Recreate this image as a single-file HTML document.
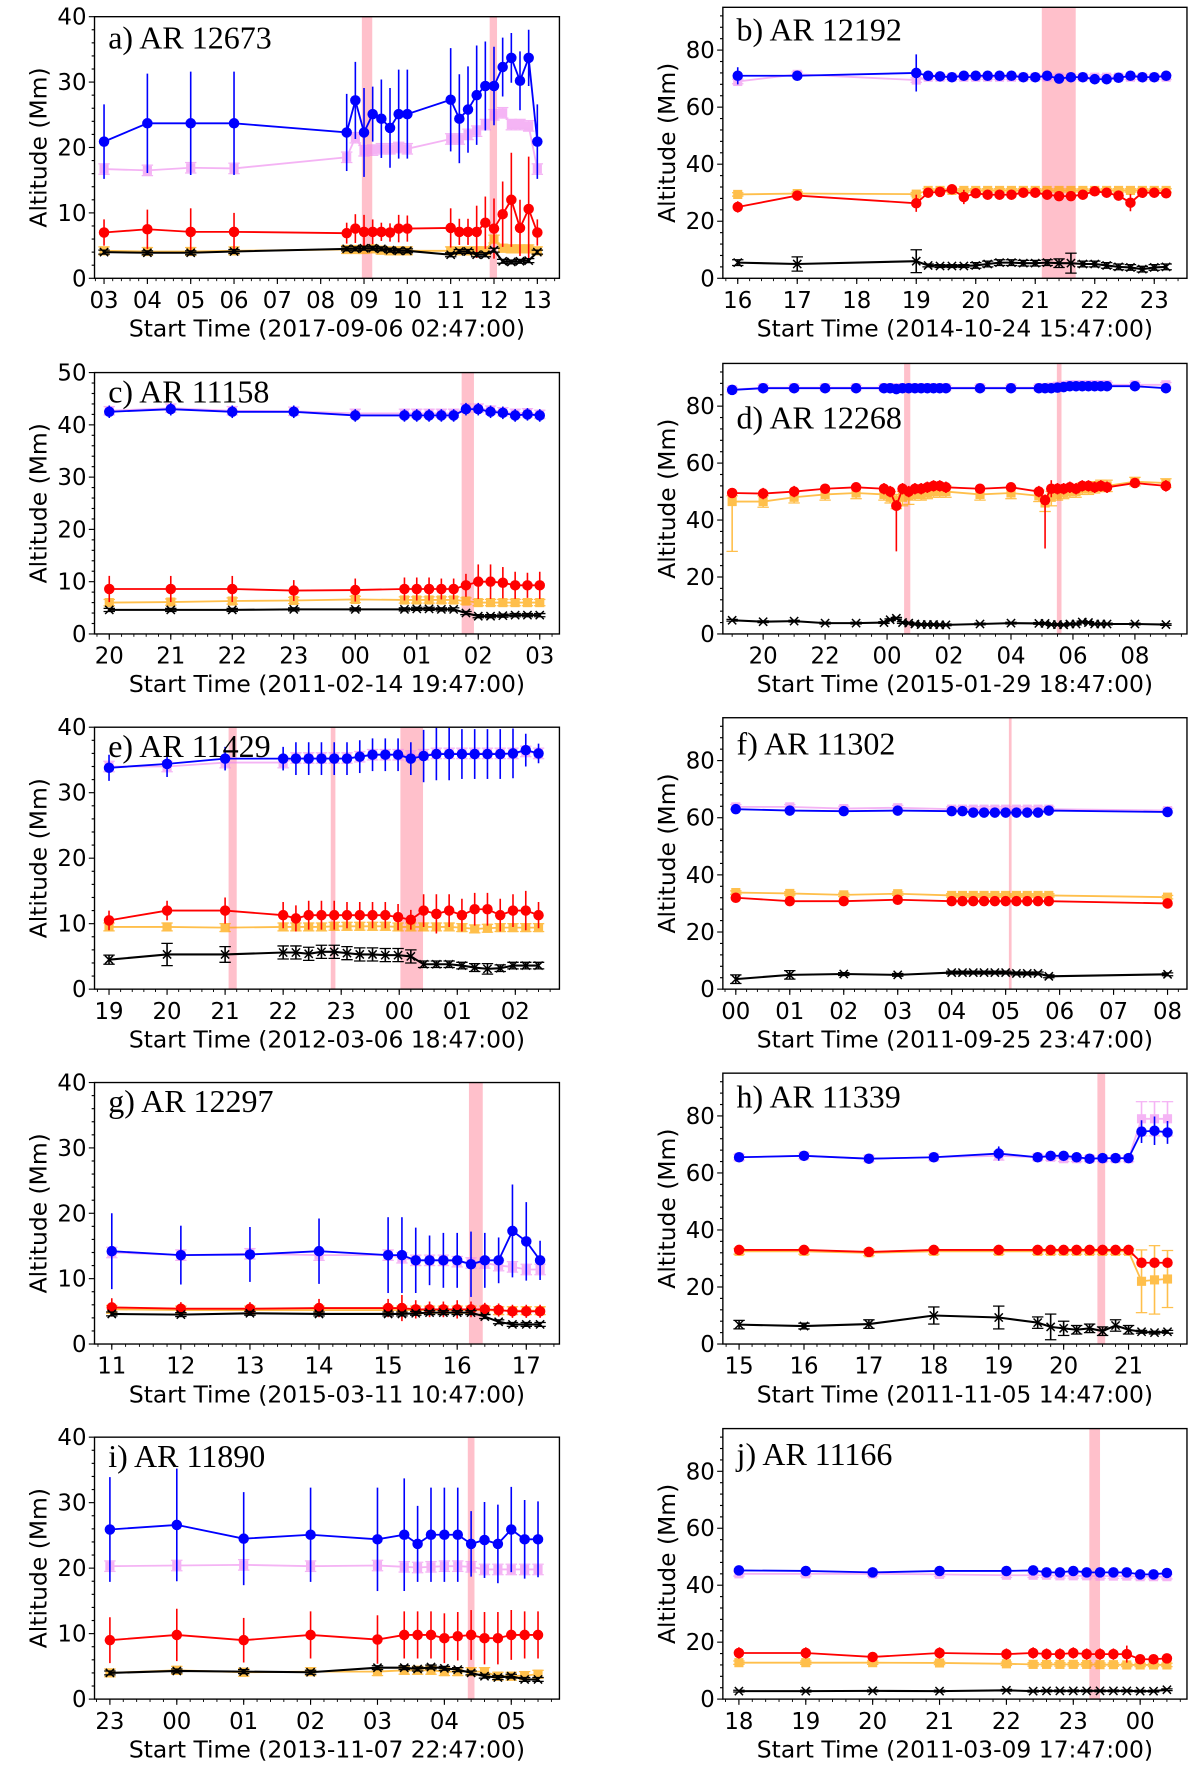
<!DOCTYPE html>
<html><head><meta charset="utf-8"><style>
html,body{margin:0;padding:0;background:#fff;}
svg{display:block;}
</style></head>
<body>
<svg id="fig" xmlns="http://www.w3.org/2000/svg" width="1200" height="1779" viewBox="0 0 1050 1556.6" preserveAspectRatio="none"></svg>
<script>
// ---------- Panel a ----------
const aTimes=[3,4,5,6,8.6,8.8,9.0,9.2,9.4,9.6,9.8,10.0,11.0,11.2,11.4,11.6,11.8,12.0,12.2,12.4,12.6,12.8,13.0];
const aBlue=[20.9,23.7,23.7,23.7,22.3,27.2,22.3,25.1,24.4,23.0,25.1,25.1,27.3,24.4,25.8,28.0,29.4,29.4,32.3,33.7,30.2,33.7,20.9];
const aBlueErr=[5.7,7.6,7.9,7.9,5.9,5.9,6.8,4.2,6,6.1,6.8,6.8,7.9,6.8,6.6,7.6,6.8,6,4.5,3.8,4.5,4.3,5.7];
const aViolet=[16.7,16.5,16.9,16.8,18.5,21.5,19.5,19.6,19.8,19.8,20.0,19.8,21.3,21.3,22.0,22.5,23.5,25.0,25.3,23.5,23.5,23.3,16.7];
const aRed=[7.0,7.5,7.1,7.1,6.9,7.6,7.1,7.1,7.1,7.0,7.6,7.6,7.7,7.1,7.1,7.1,8.5,7.6,9.8,12.0,7.7,10.6,7.0];
const aRedErr=[2,3,3.6,2.9,1.6,2.2,2.6,1.9,1.4,1.4,2.1,2.0,3.0,2.0,2.0,4,4,4.6,5,7.2,4.3,8,2];
const aOrange=[4.2,4.1,4.1,4.2,4.4,4.4,4.4,4.5,4.3,4.2,4.2,4.2,4.2,4.2,4.2,4.2,4.2,6.0,4.6,4.5,4.5,4.5,4.2];
const aBlack=[4.0,3.9,3.9,4.1,4.5,4.5,4.6,4.6,4.5,4.3,4.2,4.2,3.6,4.1,4.1,3.6,3.6,4.3,2.6,2.5,2.6,2.7,4.0];
const aBands=[[8.95,9.19],[11.9,12.07]];
const aTicks=[3,4,5,6,7,8,9,10,11,12,13];
const aTickLabels=["03","04","05","06","07","08","09","10","11","12","13"];
// ---------- Panel b ----------
const bTimes=[16,17,19,19.2,19.4,19.6,19.8,20.0,20.2,20.4,20.6,20.8,21.0,21.2,21.4,21.6,21.8,22.0,22.2,22.4,22.6,22.8,23.0,23.2];
const bBlue=[71,71,72,71,70.8,70.5,71,71,71,71,71,70.5,70.5,71,70,70.5,70.5,69.8,69.8,70.3,71,70.5,70.5,71];
const bBlueErr=[3,1.5,6.5,1.5,1,1,1.5,1,1,1,1,1,1,1,1,1,1,1,1,1,1.5,1,1,1];
const bViolet=[69,71.5,69.5,70.5,70.5,70.5,70.5,70.5,70.5,70.5,70.5,70.5,70.5,70.5,70.5,70.5,70.5,70.5,70.5,70.5,70.5,70.5,70.5,70.5];
const bRed=[25,29,26.3,30,30.3,31.2,28.5,29.8,29.3,29.3,29.3,30,30,29.3,28.8,28.8,29.3,30.5,30,29,26.5,30,30,29.8];
const bRedErr=[2,1.5,3,1.5,1.5,1,2.5,1.5,1.5,1.5,1.5,1,1,1.5,1.5,1,1.5,1,1,1.5,3,1,1,1.5];
const bOrange=[29.4,29.7,29.5,30.8,30.8,30.8,30.8,30.8,30.8,30.8,30.8,30.8,30.8,30.8,30.8,30.8,30.8,30.8,30.8,30.8,30.8,30.8,30.8,30.8];
const bBlack=[5.5,5,6,4.5,4.3,4.3,4.3,4.5,5,5.5,5.5,5.3,5.3,5.5,5.3,5.3,5,5,4.5,4,3.8,3.2,3.8,4];
const bBlackErr=[1,2.5,4,0.5,0.5,0.5,0.5,1,1,1,1,1,1,1,1.5,3.5,1,1,1,1,1,1,1,1];
const bBands=[[21.11,21.68]];
const bTicks=[16,17,18,19,20,21,22,23];
const bTickLabels=["16","17","18","19","20","21","22","23"];
// ---------- Panel c ----------
const cTimes=[20,21,22,23,24,24.8,25,25.2,25.4,25.6,25.8,26,26.2,26.4,26.6,26.8,27];
const cBlue=[42.5,43,42.5,42.5,41.8,41.8,41.8,41.8,41.8,41.8,43,43,42.5,42.3,41.8,42,41.8];
const cBlueErr=[1.2,1.2,1.2,1.2,1.2,1.2,1.2,1.2,1.2,1.2,1.2,1.2,1.2,1.2,1.2,1.2,1.2];
const cViolet=[42.7,43.2,42.7,42.6,42.2,42.2,42.2,42.2,42.2,42.2,43.2,43.2,42.8,42.5,42.2,42.3,42];
const cRed=[8.6,8.6,8.6,8.3,8.4,8.6,8.6,8.6,8.6,8.6,9.3,10,10,9.8,9.3,9.3,9.3];
const cRedErr=[2.5,2.5,2.5,2,2.2,2.2,2.2,2.2,2,2,2.2,3.3,3.3,3,2.6,2.4,2.6];
const cOrange=[6,6.1,6.3,6.4,6.6,6.5,6.5,6.5,6.5,6.5,6.3,6,6,6,6,6,6];
const cBlack=[4.6,4.6,4.6,4.7,4.7,4.7,4.8,4.8,4.7,4.7,4,3.4,3.4,3.5,3.6,3.6,3.6];
const cBands=[[25.73,25.93]];
const cTicks=[20,21,22,23,24,25,26,27];
const cTickLabels=["20","21","22","23","00","01","02","03"];
// ---------- Panel d ----------
const dTimes=[19,20,21,22,23,23.9,24.1,24.3,24.5,24.7,24.9,25.1,25.3,25.5,25.7,25.9,27,28,28.9,29.1,29.3,29.5,29.7,29.9,30.1,30.3,30.5,30.7,30.9,31.1,32,33];
const dBlue=[85.7,86.3,86.3,86.3,86.3,86.3,86.3,86,86.3,86.3,86.3,86.3,86.3,86.3,86.3,86.3,86.3,86.3,86.3,86.3,86.3,86.5,86.7,87,87,87,87,87,87,87,87,86.3];
const dViolet=[85.8,86.5,86.5,86.5,86.5,86.5,86.5,86.5,86.5,86.5,86.5,86.5,86.5,86.5,86.5,86.5,86.5,86.5,86.5,86.5,86.7,87,87.3,87.5,87.5,87.5,87.5,87.5,87.5,87.5,87.5,87.5];
const dRed=[49.5,49.3,50,51,51.5,51,50,45,51,50,51,51,51.5,52,52,51.5,51,51.5,50,47,51,51,51,51.5,51,52,52,51.5,52,51.5,53,52];
const dRedErr=[1.5,2,2,1.5,1.5,2,2,16,2,2,2,2,2,2,2,2,1.5,1.5,2,17,3,2,2,2,2,2,2,2,2,2,1.5,2];
const dRedErrHi=[1.5,2,2,1.5,1.5,2,2,2,2,2,2,2,2,2,2,2,1.5,1.5,2,2,3,2,2,2,2,2,2,2,2,2,1.5,2];
const dOrange=[46.5,46.5,48,49,49.5,49,48,47,48,48.5,49,49,49.5,50,50,50,49,49.5,48.5,46,48,49,49.5,50,50,51,51,51.5,52,52,53.5,53];
const dOrangeErr=[17.5,2,2,2,2,2,2,3,3,3,2,2,2,2,2,2,2,2,2,3,3,2,2,2,2,2,2,2,2,2,1.5,1.5];
const dOrangeErrHi=[2,2,2,2,2,2,2,2,2,2,2,2,2,2,2,2,2,2,2,2,2,2,2,2,2,2,2,2,2,2,1.5,1.5];
const dBlack=[4.8,4.3,4.5,3.8,3.8,4,5,5.5,4,3.8,3.5,3.3,3.3,3.3,3.2,3.2,3.5,3.8,3.7,3.7,3.3,3.3,3.2,3.5,3.5,4.2,4,3.5,3.5,3.5,3.5,3.3];
const dBands=[[24.55,24.75],[29.48,29.63]];
const dTicks=[20,22,24,26,28,30,32];
const dTickLabels=["20","22","00","02","04","06","08"];
// ---------- Panel e ----------
const eTimes=[19,20,21,22,22.22,22.44,22.66,22.88,23.1,23.32,23.54,23.76,23.98,24.2,24.42,24.64,24.86,25.08,25.3,25.52,25.74,25.96,26.18,26.4];
const eBlue=[33.8,34.4,35.2,35.2,35.2,35.2,35.2,35.2,35.2,35.5,35.8,35.8,35.8,35.2,35.6,35.9,35.9,35.9,35.9,35.9,35.9,36,36.5,36];
const eBlueErr=[2,2,1.8,1.8,2.5,2.5,2.5,2.5,2.5,2.5,2.5,2.5,2.5,2.5,4,4,4,3.8,3.8,3.8,3.8,3.8,2.5,1.5];
const eViolet=[34,34,34.6,34.6,35.3,35.3,35.3,35.3,35.3,35.5,35.8,35.8,35.8,35.6,35.8,36,36,36,36,36,36,36,36.3,36];
const eRed=[10.5,12,12,11.3,10.8,11.3,11.3,11.3,11.3,11.3,11.3,11.3,11,10.6,12,11.5,12,11.3,12.2,12.2,11.3,12,12,11.3];
const eRedErr=[1.5,1.5,2,2,2,2.2,2.2,2.2,2,2,2,2,2,1.5,2.5,3,2.5,2.5,2.5,2.5,2.5,2.5,3,2];
const eOrange=[9.5,9.5,9.4,9.5,9.5,9.5,9.5,9.6,9.6,9.6,9.6,9.6,9.5,9.5,9.5,9.5,9.5,9.4,9.2,9.3,9.4,9.4,9.4,9.4];
const eBlack=[4.5,5.3,5.3,5.6,5.6,5.4,5.7,5.7,5.5,5.3,5.3,5.2,5.2,5.0,3.8,3.8,3.8,3.6,3.3,3.1,3.2,3.6,3.6,3.6];
const eBlackErr=[0.7,1.7,1.2,1,1,1,1,1,1,1,1,1,1,1,0.5,0.5,0.5,0.5,0.6,0.8,0.5,0.5,0.5,0.5];
const eBands=[[21.06,21.2],[22.82,22.9],[24.02,24.41]];
const eTicks=[19,20,21,22,23,24,25,26];
const eTickLabels=["19","20","21","22","23","00","01","02"];
// ---------- Panel f ----------
const fTimes=[0,1,2,3,4,4.2,4.4,4.6,4.8,5.0,5.2,5.4,5.6,5.8,8];
const fBlue=[63,62.5,62.3,62.5,62.3,62.3,61.8,61.8,61.8,61.8,61.8,61.8,61.8,62.5,62];
const fViolet=[63.8,63.8,63.2,63.5,63,63,63,63,63,63,63,63,63,63,62.5];
const fRed=[32,30.8,30.8,31.3,30.8,30.8,30.8,30.8,30.8,30.8,30.8,30.8,30.8,30.8,30];
const fOrange=[33.8,33.5,33,33.4,32.8,32.8,32.8,32.8,32.8,32.8,32.8,32.8,32.8,32.8,32.2];
const fBlack=[3.5,5,5.3,5,5.8,5.8,5.8,5.8,5.8,5.8,5.5,5.5,5.5,4.5,5.2];
const fBlackErr=[1.5,1.5,0.5,0.5,0.5,0.5,0.5,0.5,0.5,0.5,0.5,0.5,0.5,0.5,0.5];
const fBands=[[5.06,5.11]];
const fTicks=[0,1,2,3,4,5,6,7,8];
const fTickLabels=["00","01","02","03","04","05","06","07","08"];
// ---------- Panel g ----------
const gTimes=[11,12,13,14,15,15.2,15.4,15.6,15.8,16,16.2,16.4,16.6,16.8,17,17.2];
const gBlue=[14.2,13.6,13.7,14.2,13.6,13.6,12.8,12.8,12.8,12.8,12.2,12.8,12.8,17.3,15.7,12.8];
const gBlueErr=[5.8,4.5,4.2,5,5.8,5.8,5,3.8,4.2,4.2,5,4.2,3.5,7.1,6,3];
const gViolet=[14,13.6,13.8,13.6,13.6,13.2,12.8,12.8,12.8,12.6,12.4,12.4,12,11.8,11.4,11.4];
const gRed=[5.6,5.4,5.4,5.5,5.5,5.5,5.3,5.3,5.3,5.3,5.3,5.3,5.2,5,5,5];
const gRedErr=[1.4,1,1,1.4,1.4,2,1.4,1.2,1.2,1.4,1.2,1,1,1,1,1];
const gOrange=[5.3,5.2,5.2,5.2,5.2,5.2,5.2,5.2,5.2,5.2,5.2,5.2,5.1,5.1,5.1,5.1];
const gBlack=[4.6,4.5,4.7,4.6,4.6,4.6,4.7,4.8,4.8,4.8,4.8,4.2,3.4,3.0,3.0,3.0];
const gBands=[[16.17,16.37]];
const gTicks=[11,12,13,14,15,16,17];
const gTickLabels=["11","12","13","14","15","16","17"];
// ---------- Panel h ----------
const hTimes=[15,16,17,18,19,19.6,19.8,20,20.2,20.4,20.6,20.8,21,21.2,21.4,21.6];
const hBlue=[65.5,66,65,65.5,66.8,65.5,66,66,65.5,65,65.2,65.2,65.2,74.5,74.8,74.2];
const hBlueErr=[1,1,1.5,1,2.5,1,1.5,1.5,1.5,1.5,1,1,1,4,5,4];
const hViolet=[65.5,66,65,65.5,66,65.5,65.5,65,65,65,65,65,65,79,79,79];
const hVioletErr=[1,1,1,1,1.5,1,1,1,1,1,1,1,1,6,6,6];
const hRed=[33,33,32.3,33,33,33,33,33,33,33,33,33,33,28.5,28.5,28.5];
const hOrange=[32.5,32.5,32,32.5,32.5,32.5,32.5,32.5,32.5,32.5,32.5,32.5,32.5,22,22.5,22.8];
const hOrangeErr=[1,1,1,1,1,1,1,1,1,1,1,1,1,11,12,10];
const hBlack=[6.8,6.3,7,10,9.3,7.5,6,5.5,5,5.5,4.5,6.5,5,4.3,4,4.3];
const hBlackErr=[1.5,1,1.5,3,4,2,4.5,2.5,1.5,1.5,1.5,2,1.5,0.5,0.5,0.5];
const hBands=[[20.52,20.64]];
const hTicks=[15,16,17,18,19,20,21];
const hTickLabels=["15","16","17","18","19","20","21"];
// ---------- Panel i ----------
const iTimes=[23,24,25,26,27,27.4,27.6,27.8,28.0,28.2,28.4,28.6,28.8,29.0,29.2,29.4];
const iBlue=[25.9,26.6,24.5,25.1,24.4,25.1,23.7,25.1,25.1,25.1,23.7,24.3,23.7,25.9,24.4,24.4];
const iBlueErr=[8,8.6,7.1,7.2,7.9,8.6,5.8,7.2,7.2,7.2,5,5.8,6,6.5,6,5.8];
const iViolet=[20.3,20.4,20.5,20.3,20.4,20.2,20.1,20.2,20.3,20.3,20.2,19.8,19.8,19.8,19.8,19.8];
const iRed=[9,9.8,9,9.8,9.1,9.8,9.8,9.8,9.3,9.6,9.8,9.3,9.3,9.8,9.8,9.8];
const iRedErr=[3.5,4,3.4,3.6,3.7,3.6,3.6,3.6,3.8,3.7,3.8,4,4,3.8,3.6,3.6];
const iOrange=[4,4.4,4.1,4.2,4.2,4.4,4.4,4.4,4.2,4.2,4.2,4.2,3.5,3.5,3.6,3.8];
const iBlack=[4,4.3,4.2,4.1,4.8,4.8,4.6,4.9,4.7,4.5,4,3.5,3.3,3.5,3,3];
const iBands=[[28.35,28.45]];
const iTicks=[23,24,25,26,27,28,29];
const iTickLabels=["23","00","01","02","03","04","05"];
// ---------- Panel j ----------
const jTimes=[18,19,20,21,22,22.4,22.6,22.8,23.0,23.2,23.4,23.6,23.8,24.0,24.2,24.4];
const jBlue=[45.2,45,44.5,45,45,45.2,44.5,44.5,45,44.5,44.5,44.5,44.5,43.8,43.8,44.3];
const jViolet=[44,44,44,43.8,43.5,43.5,43.5,43.3,43.3,43.3,43.2,43.2,43.2,43,43,43];
const jRed=[16.2,16.2,14.8,16.2,15.8,16.2,15.8,15.8,16.2,15.8,15.8,15.8,15.8,14,14,14.3];
const jRedErr=[2,2,1.5,2,2,2,2,2,2,2,2,2,3,1.5,1.5,1.5];
const jOrange=[12.8,12.8,12.8,12.7,12.4,12.2,12.2,12.2,12.2,12.2,12.1,12.1,12,12,12,12];
const jBlack=[2.8,2.8,2.9,2.8,3.1,2.8,2.9,2.9,2.9,2.9,2.9,2.9,2.9,2.8,2.8,3.3];
const jBands=[[23.24,23.4]];
const jTicks=[18,19,20,21,22,23,24];
const jTickLabels=["18","19","20","21","22","23","00"];

const NS='http://www.w3.org/2000/svg';
const svg=document.getElementById('fig');
function mk(tag,attrs,parent){const el=document.createElementNS(NS,tag);for(const k in attrs)el.setAttribute(k,attrs[k]);parent.appendChild(el);return el;}
const defs=mk('defs',{},svg);

const LEFT=[82.7,489.5], RIGHT=[632.5,1038.6];
const rows=[{tl:14.6,tr:6.4,b:243.5},{tl:326,tr:318,b:554.7},{tl:636.3,tr:628,b:865.5},{tl:947.2,tr:939,b:1176},{tl:1257.5,tr:1250,b:1486.7}];

const panels=[
 {id:'a',col:0,row:0,title:'a) AR 12673',tdy:28,xlim:[2.78,13.51],ylim:[0,40],ymaj:10,ymin:2,xmin:5,xlabel:'Start Time (2017-09-06 02:47:00)',t:aTimes,ticks:aTicks,tl:aTickLabels,bands:aBands,
  s:{violet:[aViolet],blue:[aBlue,aBlueErr],orange:[aOrange],red:[aRed,aRedErr],black:[aBlack]}},
 {id:'b',col:1,row:0,title:'b) AR 12192',tdy:29,xlim:[15.75,23.55],ylim:[0,95],ymaj:20,ymin:4,xmin:5,xlabel:'Start Time (2014-10-24 15:47:00)',t:bTimes,ticks:bTicks,tl:bTickLabels,bands:bBands,
  s:{violet:[bViolet],blue:[bBlue,bBlueErr],orange:[bOrange],red:[bRed,bRedErr],black:[bBlack,bBlackErr]}},
 {id:'c',col:0,row:1,title:'c) AR 11158',tdy:26,xlim:[19.76,27.32],ylim:[0,50],ymaj:10,ymin:2,xmin:5,xlabel:'Start Time (2011-02-14 19:47:00)',t:cTimes,ticks:cTicks,tl:cTickLabels,bands:cBands,
  s:{violet:[cViolet],blue:[cBlue,cBlueErr],orange:[cOrange],red:[cRed,cRedErr],black:[cBlack]}},
 {id:'d',col:1,row:1,title:'d) AR 12268',tdy:57,xlim:[18.7,33.68],ylim:[0,95],ymaj:20,ymin:4,xmin:4,xlabel:'Start Time (2015-01-29 18:47:00)',t:dTimes,ticks:dTicks,tl:dTickLabels,bands:dBands,
  s:{violet:[dViolet],blue:[dBlue],orange:[dOrange,dOrangeErr,dOrangeErrHi],red:[dRed,dRedErr,dRedErrHi],black:[dBlack]}},
 {id:'e',col:0,row:2,title:'e) AR 11429',tdy:26,xlim:[18.75,26.76],ylim:[0,40],ymaj:10,ymin:2,xmin:5,xlabel:'Start Time (2012-03-06 18:47:00)',t:eTimes,ticks:eTicks,tl:eTickLabels,bands:eBands,
  s:{violet:[eViolet],blue:[eBlue,eBlueErr],orange:[eOrange],red:[eRed,eRedErr],black:[eBlack,eBlackErr]}},
 {id:'f',col:1,row:2,title:'f) AR 11302',tdy:32,xlim:[-0.24,8.36],ylim:[0,95],ymaj:20,ymin:4,xmin:5,xlabel:'Start Time (2011-09-25 23:47:00)',t:fTimes,ticks:fTicks,tl:fTickLabels,bands:fBands,
  s:{violet:[fViolet],blue:[fBlue],orange:[fOrange],red:[fRed],black:[fBlack,fBlackErr]}},
 {id:'g',col:0,row:3,title:'g) AR 12297',tdy:26,xlim:[10.75,17.48],ylim:[0,40],ymaj:10,ymin:2,xmin:5,xlabel:'Start Time (2015-03-11 10:47:00)',t:gTimes,ticks:gTicks,tl:gTickLabels,bands:gBands,
  s:{violet:[gViolet],blue:[gBlue,gBlueErr],orange:[gOrange],red:[gRed,gRedErr],black:[gBlack]}},
 {id:'h',col:1,row:3,title:'h) AR 11339',tdy:30,xlim:[14.75,21.9],ylim:[0,95],ymaj:20,ymin:4,xmin:5,xlabel:'Start Time (2011-11-05 14:47:00)',t:hTimes,ticks:hTicks,tl:hTickLabels,bands:hBands,
  s:{violet:[hViolet,hVioletErr],blue:[hBlue,hBlueErr],orange:[hOrange,hOrangeErr],red:[hRed],black:[hBlack,hBlackErr]}},
 {id:'i',col:0,row:4,title:'i) AR 11890',tdy:26,xlim:[22.77,29.72],ylim:[0,40],ymaj:10,ymin:2,xmin:5,xlabel:'Start Time (2013-11-07 22:47:00)',t:iTimes,ticks:iTicks,tl:iTickLabels,bands:iBands,
  s:{violet:[iViolet],blue:[iBlue,iBlueErr],orange:[iOrange],red:[iRed,iRedErr],black:[iBlack]}},
 {id:'j',col:1,row:4,title:'j) AR 11166',tdy:32,xlim:[17.76,24.7],ylim:[0,95],ymaj:20,ymin:4,xmin:5,xlabel:'Start Time (2011-03-09 17:47:00)',t:jTimes,ticks:jTicks,tl:jTickLabels,bands:jBands,
  s:{violet:[jViolet],blue:[jBlue],orange:[jOrange],red:[jRed,jRedErr],black:[jBlack]}}
];

const style={
 violet:{c:'#ee82ee',op:0.6,mk:'sq',def:0.8},
 blue:{c:'#0000ff',op:1,mk:'ci',def:0.6},
 orange:{c:'#ffa500',op:0.7,mk:'sq',def:0.6},
 red:{c:'#ff0000',op:1,mk:'ci',def:0.6},
 black:{c:'#000000',op:1,mk:'x',def:0.3}
};

panels.forEach(p=>{
 const col=p.col===0?LEFT:RIGHT;
 const L=col[0],R=col[1];
 const T=p.col===0?rows[p.row].tl:rows[p.row].tr;
 const B=rows[p.row].b;
 const sx=v=>L+(v-p.xlim[0])/(p.xlim[1]-p.xlim[0])*(R-L);
 const sy=v=>B-(v-p.ylim[0])/(p.ylim[1]-p.ylim[0])*(B-T);
 const cp=mk('clipPath',{id:'clip-'+p.id},defs);
 mk('rect',{x:L,y:T,width:R-L,height:B-T},cp);
 const g=mk('g',{},svg);
 
 
 const pg=mk('g',{'clip-path':'url(#clip-'+p.id+')'},g);
 
 
 p.bands.forEach((bd,k)=>{
  const r=mk('rect',{x:sx(bd[0]),y:T,width:Math.max(1.5,sx(bd[1])-sx(bd[0])),height:B-T,fill:'#ffc0cb'},pg);
  
  
 });
 const order=['violet','blue','orange','red','black'];
 order.forEach(key=>{
  const sd=p.s[key]; if(!sd) return;
  const vals=sd[0], lo=sd[1], hi=sd[2]||sd[1];
  const st=style[key];
  const sg=mk('g',{opacity:st.op},pg);
  
  
  vals.forEach((v,i)=>{
   const el=lo?lo[i]:st.def, eh=hi?hi[i]:st.def;
   const x=sx(p.t[i]);
   const ln=mk('line',{x1:x,x2:x,y1:sy(v-el),y2:sy(v+eh),stroke:st.c,'stroke-width':1.4},sg);
   
   
   if(key==='black'||key==='violet'||key==='orange'){
    [v-el,v+eh].forEach(yy=>{
     const cap=mk('line',{x1:x-5,x2:x+5,y1:sy(yy),y2:sy(yy),stroke:st.c,'stroke-width':1.1},sg);
     
     
    });
   }
  });
  const pts=vals.map((v,i)=>sx(p.t[i]).toFixed(2)+','+sy(v).toFixed(2)).join(' ');
  const pl=mk('polyline',{points:pts,fill:'none',stroke:st.c,'stroke-width':key==='black'?1.8:1.6},sg);
  
  
  vals.forEach((v,i)=>{
   const x=sx(p.t[i]), y=sy(v);
   let m;
   if(st.mk==='ci') m=mk('circle',{cx:x,cy:y,r:4.6,fill:st.c},sg);
   else if(st.mk==='sq') m=mk('rect',{x:x-4,y:y-4,width:8,height:8,fill:st.c},sg);
   else m=mk('path',{d:`M${x-3.6},${y-3.6}L${x+3.6},${y+3.6}M${x-3.6},${y+3.6}L${x+3.6},${y-3.6}`,stroke:'#000','stroke-width':1.3,fill:'none'},sg);
   
   
  });
 });
 const fr=mk('rect',{x:L,y:T,width:R-L,height:B-T,fill:'none',stroke:'#000','stroke-width':1.2},g);
 
 
 for(let v=p.ylim[0];v<=p.ylim[1]+1e-9;v+=p.ymin){
  const major=Math.abs(v/p.ymaj-Math.round(v/p.ymaj))<1e-6;
  const tk=mk('line',{x1:L,x2:L-(major?5:2.5),y1:sy(v),y2:sy(v),stroke:'#000','stroke-width':1},g);
  
  
  if(major){
   const tx=mk('text',{x:L-7,y:sy(v)+7,'text-anchor':'end','font-family':'"DejaVu Sans","Liberation Sans",sans-serif','font-size':20},g);
   tx.textContent=String(v);
   
   
  }
 }
 const step=p.ticks[1]-p.ticks[0];
 for(let k=0;k<p.ticks.length;k++){
  const x=sx(p.ticks[k]);
  const tk=mk('line',{x1:x,x2:x,y1:B,y2:B+5,stroke:'#000','stroke-width':1},g);
  
  
  const tx=mk('text',{x:x,y:B+26,'text-anchor':'middle','font-family':'"DejaVu Sans","Liberation Sans",sans-serif','font-size':20},g);
  tx.textContent=p.tl[k];
  
  
 }
 for(let v=p.ticks[0]-step;v<=p.ticks[p.ticks.length-1]+step;v+=step/p.xmin){
  if(v<p.xlim[0]||v>p.xlim[1]) continue;
  const x=sx(v);
  const tk=mk('line',{x1:x,x2:x,y1:B,y2:B+2.5,stroke:'#000','stroke-width':0.8},g);
  
  
 }
 const xl=mk('text',{x:(L+R)/2,y:B+51,'text-anchor':'middle','font-family':'"DejaVu Sans","Liberation Sans",sans-serif','font-size':20.5},g);
 xl.textContent=p.xlabel;
 
 
 const cy=(T+B)/2, cx=L-42;
 const yl=mk('text',{x:cx,y:cy,transform:`rotate(-90 ${cx} ${cy})`,'text-anchor':'middle','font-family':'"DejaVu Sans","Liberation Sans",sans-serif','font-size':20.5},g);
 yl.textContent='Altitude (Mm)';
 
 
 const tt=mk('text',{x:L+12,y:T+p.tdy,'font-family':'"Liberation Serif",serif','font-size':28},g);
 tt.textContent=p.title;
 
 
});
</script>
</body></html>
